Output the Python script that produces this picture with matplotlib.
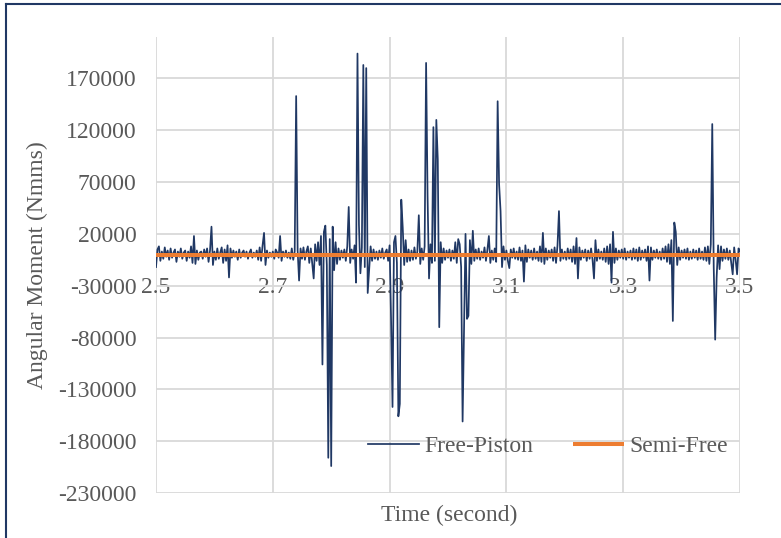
import numpy as np
import matplotlib
matplotlib.use("Agg")
import matplotlib.pyplot as plt
from matplotlib.lines import Line2D

# ---------------- data ----------------
t_start, t_end = 2.5, 3.5
# Free-Piston angular moment samples (thousands of Nmms), evenly spaced in time
free_piston_k = [
    -12, 5, 8, -6, 3, -4, 7, -2, 4, -5, 6, -3, 2, 5, -7, 3, -2, 6, -4, 2,
    4, -6, 3, -3, 8, -8, 18, -9, 4, -5, 2, 3, -4, 5, -2, 6, -7, 4, 27, -10,
    3, -5, 6, -4, 2, 7, -8, 5, -6, 9, -22, 6, -3, 4, -2, 3, -5, 5, -3, 2,
    4, -2, 3, -4, 2, 5, -3, 2, -2, 4, -5, 7, -6, 9, 21, -10, 4, -3, 2, -2,
    3, -4, 5, 2, -3, 18, -6, 3, -2, 4, -3, 2, -4, 6, -5, 3, 153, 4, -25, 6,
    -4, 7, -5, 3, 8, -8, 6, -9, -23, 10, -6, 12, -10, 18, -106, 22, 28, -10, -196, 15,
    -204, 27, -15, 12, -9, 6, -5, 4, -3, 5, -6, 8, 46, -8, 5, -4, 9, -27, 194, 29,
    -18, 7, 183, -12, 180, -37, -15, 8, -6, 5, -4, 3, -5, 4, -3, 6, -4, 2, 5, -6,
    9, -62, -147, 12, 18, -8, -156, -144, 53, 26, -10, 14, -7, 5, -6, 4, -5, 7, -4, 3,
    38, -9, 6, -5, 8, 185, 57, -23, 10, -8, 123, -6, 130, 92, -70, 12, -8, 6, -5, 4,
    -3, 5, -6, 4, -4, 12, -8, 15, 10, -12, -161, -69, 20, -62, -59, 14, -9, 23, -6, 5,
    -4, 6, -5, 3, -3, 7, -6, 5, 18, -8, 4, -5, 6, -7, 148, 68, 42, -12, 8, -5,
    4, -6, -13, 5, -3, 6, -4, 3, -5, 7, -6, 4, -26, 9, -7, 5, -3, 4, -5, 6,
    -4, 3, -6, 8, -7, 21, -9, 6, -5, 4, -3, 5, -6, 7, -8, 9, 42, -6, 5, -4,
    3, -5, 6, -4, 5, -7, 8, -9, 16, -23, 7, -5, 4, -3, 5, -6, 4, -4, 6, -5,
    -23, 14, -6, 5, -4, 3, -5, 6, -7, 8, -9, 10, -27, 22, -8, 6, -5, 4, -3, 5,
    -4, 6, -5, 3, -3, 4, -5, 6, -4, 5, -6, 7, -5, 4, -3, 5, -6, 8, -25, 7,
    -5, 4, -3, 5, -4, 3, -5, 6, -4, 8, -7, 10, -9, 14, -64, 31, 22, -10, 7, -5,
    4, -3, 5, -4, 6, -5, 3, -4, 5, -3, 4, -5, 6, -4, 3, -5, 7, -6, 8, -9,
    10, 126, -12, -82, -22, 9, -14, 8, -6, 5, -4, 6, -5, 4, -8, -19, 7, -5, -19, 6, 3,
]
free_piston = np.array(free_piston_k, dtype=float) * 1000.0
time_fp = np.linspace(t_start, t_end, len(free_piston))

semi_free_time = [2.5, 3.5]
semi_free = [0.0, 0.0]

x_ticks = [2.5, 2.7, 2.9, 3.1, 3.3, 3.5]
x_tick_labels = ["2.5", "2.7", "2.9", "3.1", "3.3", "3.5"]
y_ticks = [-230000, -180000, -130000, -80000, -30000, 20000, 70000, 120000, 170000]
y_tick_labels = [str(v) for v in y_ticks]
y_min, y_max = -230000, 210000

# ---------------- style ----------------
plt.rcParams['font.family'] = ['Liberation Serif', 'DejaVu Serif']
FS = 17
TXT = '#595959'
BLUE = '#203864'
ORANGE = '#ED7D31'
GRID = '#D9D9D9'

W, H = 781, 538
fig = plt.figure(figsize=(W / 100, H / 100), dpi=100)
fig.patch.set_facecolor('white')

left, right, top, bottom = 156, 740, 37, 493
ax = fig.add_axes([left / W, 1 - bottom / H, (right - left) / W, (bottom - top) / H])

ax.plot(time_fp, free_piston, color=BLUE, lw=1.25, label='Free-Piston', zorder=3)
ax.plot(semi_free_time, semi_free, color=ORANGE, lw=2.9, label='Semi-Free',
        solid_capstyle='butt', zorder=4)

ax.set_xlim(t_start, t_end)
ax.set_ylim(y_min, y_max)
ax.set_xticks(x_ticks)
ax.set_xticklabels(x_tick_labels)
ax.set_yticks(y_ticks)
ax.set_yticklabels(y_tick_labels)

for s in ax.spines.values():
    s.set_visible(False)
ax.spines['bottom'].set_position(('data', 0))

ax.grid(True, color=GRID, lw=1.3, zorder=0)
ax.set_axisbelow(True)
ax.tick_params(axis='both', length=0, labelsize=FS, labelcolor=TXT)
ax.tick_params(axis='x', pad=16)
ax.tick_params(axis='y', pad=14)

fig.text(37 / W, 1 - 265 / H, 'Angular Moment (Nmms)', rotation=90,
         ha='center', va='center', fontsize=FS, color=TXT)
fig.text(449 / W, 1 - 515 / H, 'Time (second)', ha='center', va='center',
         fontsize=FS, color=TXT)

leg = ax.legend(loc='center', bbox_to_anchor=(548 / W, 1 - 446 / H),
                bbox_transform=fig.transFigure, ncol=2, frameon=False,
                fontsize=FS, handlelength=2.17, handletextpad=0.25,
                columnspacing=1.65, borderaxespad=0, borderpad=0)
for txt in leg.get_texts():
    txt.set_color(TXT)

# figure border (left and top visible)
fig.add_artist(Line2D([6 / W, 6 / W], [0, 1 - 4 / H], color=BLUE, lw=1.5,
                      transform=fig.transFigure))
fig.add_artist(Line2D([6 / W, 1], [1 - 4 / H, 1 - 4 / H], color=BLUE, lw=1.5,
                      transform=fig.transFigure))

fig.savefig('out.png', dpi=100)
